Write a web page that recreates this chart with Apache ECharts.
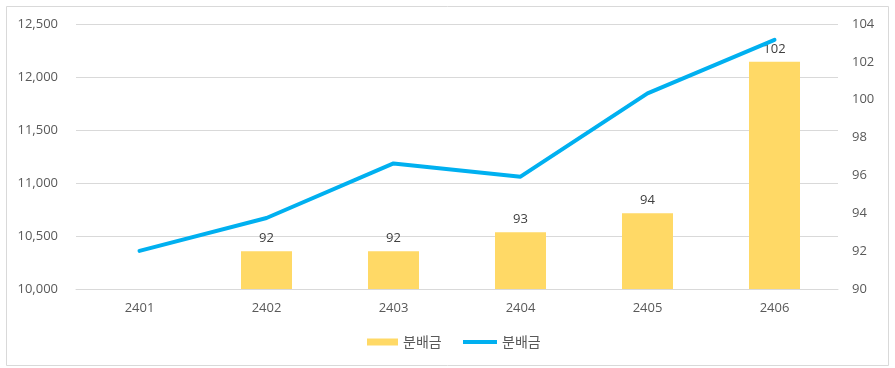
<!DOCTYPE html>
<html>
<head>
<meta charset="utf-8">
<script src="https://cdn.jsdelivr.net/npm/echarts@6/dist/echarts.min.js"></script>
<style>
  html, body { margin: 0; padding: 0; background: #fff; }
  #chart { width: 895px; height: 368px; }
</style>
</head>
<body>
<div id="chart"></div>
<script>
// 월 (카테고리)
var months = ['2401', '2402', '2403', '2404', '2405', '2406'];
// 막대: 분배금 (오른쪽 축)
var barValues = [null, 92, 92, 93, 94, 102];
// 선: 왼쪽 축 값
var lineValues = [10360, 10670, 11185, 11060, 11845, 12350];

var numFont = '"Open Sans", "Noto Sans", sans-serif';
var krFont = '"Noto Sans CJK KR", sans-serif';

var myChart = echarts.init(document.getElementById('chart'));

var option = {
    backgroundColor: '#fff',
    animation: false,
    graphic: [{
        type: 'rect',
        shape: { x: 6.5, y: 6.5, width: 882, height: 359 },
        style: { fill: 'none', stroke: '#d9d9d9', lineWidth: 1 },
        silent: true
    }],
    grid: { left: 76, right: 57, top: 24, bottom: 79 },
    legend: [{
        left: 362, top: 330,
        itemWidth: 31, itemHeight: 7, itemGap: 0,
        data: [{ name: '분배금', icon: 'rect' }],
        textStyle: { color: '#595959', fontSize: 14, fontFamily: krFont },
        formatter: function (n) { return n.trim(); }
    }, {
        left: 458, top: 330,
        itemWidth: 34, itemHeight: 4, itemGap: 0,
        data: [{ name: '분배금 ', icon: 'rect' }],
        textStyle: { color: '#595959', fontSize: 14, fontFamily: krFont },
        formatter: function (n) { return n.trim(); }
    }],
    xAxis: {
        type: 'category',
        data: months,
        axisLine: { show: true, lineStyle: { color: '#d9d9d9' } },
        axisTick: { show: false },
        axisLabel: { color: '#595959', fontSize: 13, fontFamily: numFont, margin: 13 }
    },
    yAxis: [{
        type: 'value',
        min: 10000, max: 12500, interval: 500,
        axisLine: { show: false },
        axisTick: { show: false },
        splitLine: { lineStyle: { color: '#d9d9d9' } },
        axisLabel: {
            color: '#595959', fontSize: 13, fontFamily: numFont, margin: 18,
            formatter: function (v) { return v.toLocaleString('en-US'); }
        }
    }, {
        type: 'value',
        min: 90, max: 104, interval: 2,
        position: 'right',
        axisLine: { show: false },
        axisTick: { show: false },
        splitLine: { show: false },
        axisLabel: { color: '#595959', fontSize: 13, fontFamily: numFont, margin: 14 }
    }],
    series: [{
        name: '분배금',
        type: 'bar',
        yAxisIndex: 1,
        barWidth: 51,
        data: barValues,
        itemStyle: { color: '#FFD966' },
        label: {
            show: true, position: 'top', distance: 6,
            color: '#404040', fontSize: 13, fontFamily: numFont
        },
        z: 2
    }, {
        name: '분배금 ',
        type: 'line',
        yAxisIndex: 0,
        data: lineValues,
        symbol: 'none',
        itemStyle: { color: '#00B0F0' },
        lineStyle: { color: '#00B0F0', width: 4, cap: 'round', join: 'round' },
        z: 3
    }]
};

myChart.setOption(option);
</script>
</body>
</html>
